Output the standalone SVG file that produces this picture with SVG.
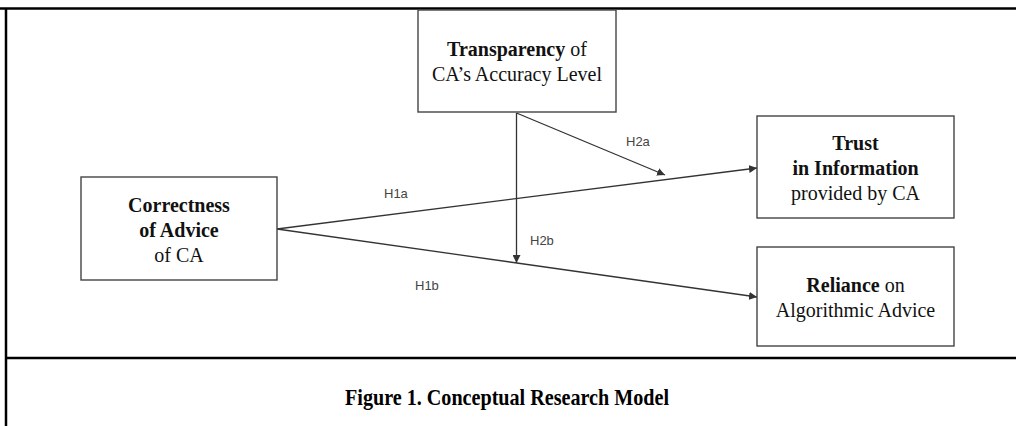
<svg xmlns="http://www.w3.org/2000/svg" width="1016" height="426" viewBox="0 0 1016 426">
<style>
.frame{stroke:#000;stroke-width:2.5;fill:none}
.box{fill:#fff;stroke:#444;stroke-width:1.4}
.t{font-family:"Liberation Serif","Times New Roman",serif;font-size:20px;fill:#111;text-anchor:middle}
.b{font-weight:bold}
.lbl{font-family:"Liberation Sans",Arial,sans-serif;font-size:13px;fill:#444}
.con{stroke:#333;stroke-width:1.3;fill:none;marker-end:url(#ah)}
.cap{font-family:"Liberation Serif","Times New Roman",serif;font-size:24px;font-weight:bold;fill:#000}
</style>
<defs>
<marker id="ah" viewBox="0 0 10 10" refX="10" refY="5" markerWidth="8" markerHeight="8" markerUnits="userSpaceOnUse" orient="auto">
<path d="M0,0 L10,5 L0,10 z" fill="#333"/>
</marker>
</defs>
<rect width="1016" height="426" fill="#fff"/>
<g id="frame">
<line class="frame" x1="0" y1="8.5" x2="1016" y2="8.5"/>
<line class="frame" x1="6" y1="8.5" x2="6" y2="426"/>
<line class="frame" x1="6" y1="358" x2="1016" y2="358"/>
</g>
<g id="connectors">
<line class="con" x1="277" y1="229" x2="757" y2="168"/>
<line class="con" x1="277" y1="229" x2="757" y2="297"/>
<line class="con" x1="516.5" y1="113" x2="516.5" y2="263"/>
<line class="con" x1="516.5" y1="113" x2="665" y2="175"/>
<text class="lbl" x="384" y="198">H1a</text>
<text class="lbl" x="415" y="290">H1b</text>
<text class="lbl" x="626" y="146">H2a</text>
<text class="lbl" x="530" y="245">H2b</text>
</g>
<g id="transparency">
<rect class="box" x="418" y="10" width="198" height="102"/>
<text class="t" x="517" y="56"><tspan class="b">Transparency</tspan> of</text>
<text class="t" x="517" y="81">CA’s Accuracy Level</text>
</g>
<g id="correctness">
<rect class="box" x="81" y="177" width="196" height="103"/>
<text class="t b" x="179" y="212">Correctness</text>
<text class="t b" x="179" y="237">of Advice</text>
<text class="t" x="179" y="262">of CA</text>
</g>
<g id="trust">
<rect class="box" x="757" y="116" width="197" height="102"/>
<text class="t b" x="855.5" y="150">Trust</text>
<text class="t b" x="855.5" y="175">in Information</text>
<text class="t" x="855.5" y="200">provided by CA</text>
</g>
<g id="reliance">
<rect class="box" x="757" y="247" width="197" height="99"/>
<text class="t" x="855.5" y="292"><tspan class="b">Reliance</tspan> on</text>
<text class="t" x="855.5" y="317">Algorithmic Advice</text>
</g>
<g id="caption">
<text class="cap" x="345" y="405" textLength="324" lengthAdjust="spacingAndGlyphs">Figure 1.  Conceptual Research Model</text>
</g>
</svg>
